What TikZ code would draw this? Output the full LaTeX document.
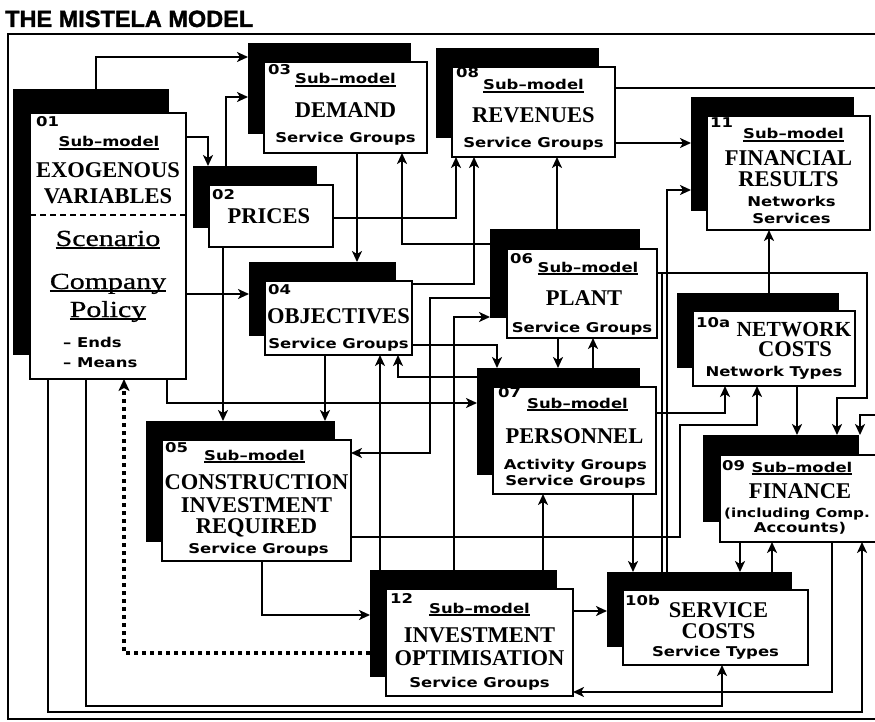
\documentclass[tikz,border=0pt]{standalone}
\usepackage{fontspec}
\setmainfont{Liberation Serif}
\newfontfamily\pixfont{DejaVu Sans}[FakeStretch=1.22]
\newfontfamily\titlefont{Liberation Sans Bold}[FakeBold=1.5]
\newfontfamily\policyfont{Liberation Serif}[FakeStretch=1.3, FakeBold=0.8]
\usetikzlibrary{arrows.meta}

% thick underline
\newcommand{\uln}[1]{\setbox0\hbox{#1}\rlap{\rule[-3pt]{\wd0}{1.6pt}}\box0}

\tikzset{
  shadowbox/.style={fill=black, inner sep=0pt, outer sep=0pt},
  whitebox/.style={draw, fill=white, line width=2pt, inner sep=0pt, outer sep=0pt},
  link/.style={line width=2.5pt},
  arr/.style={link, -{Stealth[length=11pt,width=10pt,inset=3pt]}},
  dotarr/.style={line width=4.5pt, dash pattern=on 4.5pt off 3.5pt,
    -{Stealth[length=12pt,width=11pt,inset=3pt]}},
  smalltxt/.style={font=\pixfont\bfseries\fontsize{13.5}{15}\selectfont, inner sep=0pt},
  nametxt/.style={font=\bfseries\fontsize{22.5}{24}\selectfont, inner sep=0pt},
  policytxt/.style={font=\policyfont\fontsize{23}{25}\selectfont, inner sep=0pt},
}

% one sub-model: black shadow behind a white box
\newcommand{\subbox}[6][-16,-19]{%
  \node[shadowbox, anchor=north west, shift={(#1)},
        minimum width={(#5-#3)*1pt}, minimum height={(#6-#4)*1pt}] (s#2) at (#3,#4) {};
  \node[whitebox, anchor=north west,
        minimum width={(#5-#3)*1pt}, minimum height={(#6-#4)*1pt}] (w#2) at (#3,#4) {};
}
\newcommand{\submodel}{\uln{Sub\textendash model}}

\begin{document}
\begin{tikzpicture}[x=1pt,y=-1pt]
        \useasboundingbox (0,0) rectangle (875,722);

        % Title and frame
        \node[anchor=base west, inner sep=0pt, font=\titlefont\fontsize{23.5}{26}\selectfont] (title) at (5,27) {THE MISTELA MODEL};
        \draw[line width=1.6pt] (880,34) -- (8,34) -- (8,719) -- (880,719);

        % Boxes
        \subbox[-17,-24]{01}{30}{113}{186}{379}
        \subbox{02}{209}{185}{333}{247}
        \subbox{03}{264}{62}{427}{153}
        \subbox{04}{265}{281}{412}{355}
        \subbox{05}{162}{440}{351}{561}
        \subbox[-17,-20]{06}{507}{249}{657}{338}
        \subbox{07}{493}{387}{656}{494}
        \subbox{08}{452}{67}{615}{157}
        \subbox[-17,-20]{09}{720}{455}{876}{542}
        \subbox[-16,-18]{10a}{693}{311}{855}{386}
        \subbox[-16,-18]{10b}{623}{590}{808}{665}
        \subbox{11}{707}{116}{870}{230}
        \subbox{12}{386}{589}{573}{696}

        % 01 Exogenous variables
        \node[smalltxt, anchor=base west] (n01) at ([shift={(6,14)}]w01.north west) {01};
        \node[smalltxt, anchor=base] (t01a) at ([shift={(1,34)}]w01.north) {\submodel};
        \node[nametxt, anchor=base] (t01b) at ([shift={(0,65)}]w01.north) {EXOGENOUS};
        \node[nametxt, anchor=base] (t01c) at ([shift={(0,91)}]w01.north) {VARIABLES};
        \draw[line width=1.6pt, dash pattern=on 6pt off 4pt] (w01.west |- 0,215) -- (w01.east |- 0,215);
        \node[policytxt, anchor=base] (t01d) at ([shift={(0,133)}]w01.north) {\uln{Scenario}};
        \node[policytxt, anchor=base] (t01e) at ([shift={(0,176)}]w01.north) {\uln{Company}};
        \node[policytxt, anchor=base] (t01f) at ([shift={(0,204)}]w01.north) {\uln{Policy}};
        \node[smalltxt, anchor=base west] (t01g) at ([shift={(33,234)}]w01.north west) {\textendash{} Ends};
        \node[smalltxt, anchor=base west] (t01h) at ([shift={(33,254)}]w01.north west) {\textendash{} Means};

        % 02 Prices
        \node[smalltxt, anchor=base west] (n02) at ([shift={(3,15)}]w02.north west) {02};
        \node[nametxt, anchor=base] (t02a) at ([shift={(-2,38)}]w02.north) {PRICES};

        % 03 Demand
        \node[smalltxt, anchor=base west] (n03) at ([shift={(4,13)}]w03.north west) {03};
        \node[smalltxt, anchor=base] (t03a) at ([shift={(0,22)}]w03.north) {\submodel};
        \node[nametxt, anchor=base] (t03b) at ([shift={(0,56)}]w03.north) {DEMAND};
        \node[smalltxt, anchor=base] (t03c) at ([shift={(0,81)}]w03.north) {Service Groups};

        % 04 Objectives
        \node[smalltxt, anchor=base west] (n04) at ([shift={(3,13)}]w04.north west) {04};
        \node[nametxt, anchor=base] (t04a) at ([shift={(0,42)}]w04.north) {OBJECTIVES};
        \node[smalltxt, anchor=base] (t04b) at ([shift={(0,67)}]w04.north) {Service Groups};

        % 05 Construction investment
        \node[smalltxt, anchor=base west] (n05) at ([shift={(3,12)}]w05.north west) {05};
        \node[smalltxt, anchor=base] (t05a) at ([shift={(-2,20)}]w05.north) {\submodel};
        \node[nametxt, anchor=base] (t05b) at ([shift={(0,49)}]w05.north) {CONSTRUCTION};
        \node[nametxt, anchor=base] (t05c) at ([shift={(0,72)}]w05.north) {INVESTMENT};
        \node[nametxt, anchor=base] (t05d) at ([shift={(0,93)}]w05.north) {REQUIRED};
        \node[smalltxt, anchor=base] (t05e) at ([shift={(2,113)}]w05.north) {Service Groups};

        % 06 Plant
        \node[smalltxt, anchor=base west] (n06) at ([shift={(3,14)}]w06.north west) {06};
        \node[smalltxt, anchor=base] (t06a) at ([shift={(6,23)}]w06.north) {\submodel};
        \node[nametxt, anchor=base] (t06b) at ([shift={(2,56)}]w06.north) {PLANT};
        \node[smalltxt, anchor=base] (t06c) at ([shift={(0,83)}]w06.north) {Service Groups};

        % 07 Personnel
        \node[smalltxt, anchor=base west] (n07) at ([shift={(5,10)}]w07.north west) {07};
        \node[smalltxt, anchor=base] (t07a) at ([shift={(3,21)}]w07.north) {\submodel};
        \node[nametxt, anchor=base] (t07b) at ([shift={(0,56)}]w07.north) {PERSONNEL};
        \node[smalltxt, anchor=base] (t07c) at ([shift={(1,82)}]w07.north) {Activity Groups};
        \node[smalltxt, anchor=base] (t07d) at ([shift={(1,98)}]w07.north) {Service Groups};

        % 08 Revenues
        \node[smalltxt, anchor=base west] (n08) at ([shift={(4,11)}]w08.north west) {08};
        \node[smalltxt, anchor=base] (t08a) at ([shift={(0,23)}]w08.north) {\submodel};
        \node[nametxt, anchor=base] (t08b) at ([shift={(0,56)}]w08.north) {REVENUES};
        \node[smalltxt, anchor=base] (t08c) at ([shift={(0,81)}]w08.north) {Service Groups};

        % 09 Finance
        \node[smalltxt, anchor=base west] (n09) at ([shift={(2,15)}]w09.north west) {09};
        \node[smalltxt, anchor=base] (t09a) at ([shift={(4,17)}]w09.north) {\submodel};
        \node[nametxt, anchor=base] (t09b) at ([shift={(2,43)}]w09.north) {FINANCE};
        \node[smalltxt, anchor=base, font=\pixfont\bfseries\fontsize{12.5}{14}\selectfont] (t09c) at ([shift={(-1,62)}]w09.north) {(including Comp.};
        \node[smalltxt, anchor=base] (t09d) at ([shift={(2,77)}]w09.north) {Accounts)};

        % 10a Network costs
        \node[smalltxt, anchor=base west] (n10a) at ([shift={(3,16)}]w10a.north west) {10a};
        \node[nametxt, anchor=base, font=\bfseries\fontsize{21.5}{24}\selectfont] (t10aa) at ([shift={(20,25)}]w10a.north) {NETWORK};
        \node[nametxt, anchor=base] (t10ab) at ([shift={(21,45)}]w10a.north) {COSTS};
        \node[smalltxt, anchor=base] (t10ac) at ([shift={(0,65)}]w10a.north) {Network Types};

        % 10b Service costs
        \node[smalltxt, anchor=base west] (n10b) at ([shift={(2,15)}]w10b.north west) {10b};
        \node[nametxt, anchor=base] (t10ba) at ([shift={(3,27)}]w10b.north) {SERVICE};
        \node[nametxt, anchor=base] (t10bb) at ([shift={(3,48)}]w10b.north) {COSTS};
        \node[smalltxt, anchor=base] (t10bc) at ([shift={(0,66)}]w10b.north) {Service Types};

        % 11 Financial results
        \node[smalltxt, anchor=base west] (n11) at ([shift={(3,12)}]w11.north west) {11};
        \node[smalltxt, anchor=base] (t11a) at ([shift={(5,23)}]w11.north) {\submodel};
        \node[nametxt, anchor=base] (t11b) at ([shift={(0,50)}]w11.north) {FINANCIAL};
        \node[nametxt, anchor=base] (t11c) at ([shift={(0,71)}]w11.north) {RESULTS};
        \node[smalltxt, anchor=base] (t11d) at ([shift={(3,91)}]w11.north) {Networks};
        \node[smalltxt, anchor=base] (t11e) at ([shift={(3,107)}]w11.north) {Services};

        % 12 Investment optimisation
        \node[smalltxt, anchor=base west] (n12) at ([shift={(4,14)}]w12.north west) {12};
        \node[smalltxt, anchor=base] (t12a) at ([shift={(0,24)}]w12.north) {\submodel};
        \node[nametxt, anchor=base] (t12b) at ([shift={(0,53)}]w12.north) {INVESTMENT};
        \node[nametxt, anchor=base] (t12c) at ([shift={(0,76)}]w12.north) {OPTIMISATION};
        \node[smalltxt, anchor=base] (t12d) at ([shift={(0,98)}]w12.north) {Service Groups};

        % Links out of 01
        \draw[arr] (96,0 |- s01.north) |- (s03.west |- 0,57);
        \draw[arr] (w01.east |- 0,137) -| (208,0 |- s02.north);
        \draw[arr] (w01.east |- 0,294) -- (s04.west |- 0,294);
        \draw[arr] (167,0 |- w01.south) |- (s07.west |- 0,403);
        \draw[arr] (86,0 |- w01.south) |- (722,706) -- (722,0 |- w10b.south);
        \draw[arr] (48,0 |- w01.south) |- (862,712) -- (862,0 |- w09.south);

        % Links out of 02, 03, 04, 05
        \draw[arr] (226,0 |- s02.north) |- (s03.west |- 0,97);
        \draw[arr] (w02.east |- 0,218) -| (456,0 |- w08.south);
        \draw[arr] (223,0 |- w02.south) -- (223,0 |- s05.north);
        \draw[arr] (357,0 |- w03.south) -- (357,0 |- s04.north);
        \draw[arr] (w04.east |- 0,284) -| (474,0 |- w08.south);
        \draw[arr] (325,0 |- w04.south) -- (325,0 |- s05.north);
        \draw[arr] (w04.east |- 0,345) -| (497,0 |- s07.north);
        \draw[arr] (262,0 |- w05.south) |- (s12.west |- 0,615);
        \draw[arr] (w05.east |- 0,537) -| (680,425) -| (757,0 |- w10a.south);

        % Links out of 06, 07, 08
        \draw[arr] (s06.west |- 0,244) -| (402,0 |- w03.south);
        \draw[arr] (557,0 |- s06.north) -- (557,0 |- w08.south);
        \draw[arr] (s06.west |- 0,298) -| (430,453) -- (w05.east |- 0,453);
        \draw[arr] (558,0 |- w06.south) -- (558,0 |- s07.north);
        \draw[arr] (w06.east |- 0,273) -| (867,398) -| (837,0 |- s09.north);
        \coordinate (j06) at (662,273);
        \draw[link] (j06) -- (j06 |- s10b.north);
        \draw[arr] (593,0 |- s07.north) -- (593,0 |- w06.south);
        \draw[arr] (s07.west |- 0,377) -| (398,0 |- w04.south);
        \draw[arr] (w07.east |- 0,413) -| (725,0 |- w10a.south);
        \draw[arr] (633,0 |- w07.south) -- (633,0 |- s10b.north);
        \draw[arr] (w08.east |- 0,143) -- (s11.west |- 0,143);
        \draw[arr] (w08.east |- 0,88) -| (877,415) -| (860,0 |- s09.north);

        % Links out of 09, 10a, 10b
        \draw[arr] (740,0 |- w09.south) -- (740,0 |- s10b.north);
        \draw[arr] (832,0 |- w09.south) |- (w12.east |- 0,692);
        \draw[arr] (769,0 |- s10a.north) -- (769,0 |- w11.south);
        \draw[arr] (797,0 |- w10a.south) -- (797,0 |- s09.north);
        \draw[arr] (772,0 |- s10b.north) -- (772,0 |- w09.south);
        \draw[arr] (667,0 |- s10b.north) |- (s11.west |- 0,190);

        % Links out of 12
        \draw[arr] (380,0 |- s12.north) -- (380,0 |- w04.south);
        \draw[arr] (454,0 |- s12.north) |- (s06.west |- 0,317);
        \draw[arr] (543,0 |- s12.north) -- (543,0 |- w07.south);
        \draw[arr] (w12.east |- 0,611) -- (s10b.west |- 0,611);
        \draw[dotarr] (s12.west |- 0,653) -| (124,0 |- w01.south);
    \end{tikzpicture}
\end{document}
